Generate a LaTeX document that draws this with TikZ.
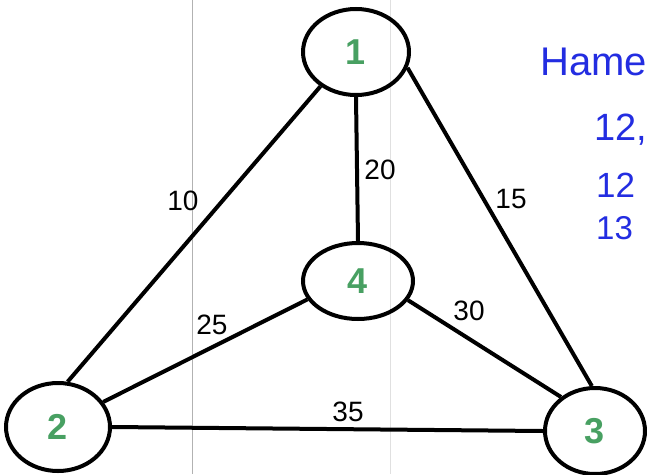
\documentclass[tikz,border=0pt]{standalone}
\usepackage{fontspec}
\setmainfont{Liberation Sans}
\usepackage{xcolor}
\usetikzlibrary{shapes.geometric}
\definecolor{numgreen}{RGB}{72,160,98}
\definecolor{penblue}{RGB}{35,45,225}

\begin{document}
\begin{tikzpicture}[
    x=1pt, y=-1pt,
    vert/.style={draw, ellipse, line width=4pt, minimum width=106pt, minimum height=86pt, inner sep=0pt, text=numgreen, font=\fontsize{36}{36}\selectfont\bfseries},
    link/.style={line width=4pt},
    wt/.style={font=\fontsize{28}{28}\selectfont},
    pen/.style={anchor=west, inner sep=0pt, text=penblue, font=\fontsize{38}{38}\selectfont},
    scan/.style={line width=1pt}
]
\useasboundingbox (0,0) rectangle (647,474);
\clip (0,0) rectangle (647,474);
% faint scanner lines
\draw[scan, black!30] (192,0) -- (192,474);
\draw[scan, black!12] (390,0) -- (390,474);
% vertices
\node[vert] (v1) at (356,52) {1};
\node[vert, minimum width=110pt, minimum height=76pt] (v4) at (358,281) {4};
\node[vert, minimum width=104pt, minimum height=88pt] (v2) at (58,427) {2};
\node[vert, minimum width=100pt] (v3) at (595,431) {3};
% edges
\draw[link] (v1.224) -- (v2.78);
\draw[link] (v1.south) -- (v4.north);
\draw[link] (v1.343) -- (v3.94);
\draw[link] (v4.200) -- (v2.29);
\draw[link] (v4.339) -- (v3.135);
\draw[link] (v2.east) -- (v3.west);
% weights
\node[wt] (w12) at (183,201) {10};
\node[wt] (w14) at (380,170) {20};
\node[wt] (w13) at (511,199) {15};
\node[wt] (w24) at (212,325) {25};
\node[wt] (w34) at (469,311) {30};
\node[wt] (w23) at (348,412) {35};
% handwritten notes
\node[pen, font=\fontsize{40}{40}\selectfont] (hame) at (540,62) {Hame};
\node[pen] (line1) at (594,130) {12,};
\node[pen, font=\fontsize{35}{35}\selectfont] (line2) at (596,185) {12};
\node[pen, font=\fontsize{33}{33}\selectfont] (line3) at (596,228) {13};
\end{tikzpicture}
\end{document}
